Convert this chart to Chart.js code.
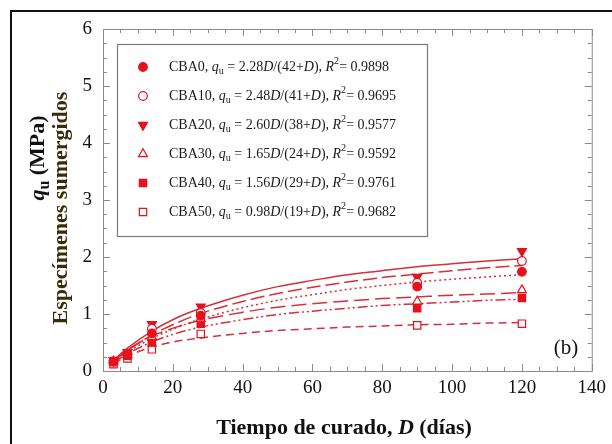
<!DOCTYPE html>
<html>
<head>
<meta charset="utf-8">
<script src="https://cdn.jsdelivr.net/npm/chart.js@4.4.1/dist/chart.umd.min.js"></script>
<style>
  html, body { margin: 0; padding: 0; background: #fff; }
  canvas { display: block; }
</style>
</head>
<body>
<canvas id="c" width="612" height="444"></canvas>
<script>
// measured points (curing days vs qu, MPa)
const days = [3, 7, 14, 28, 90, 120];
const cba0 = [0.17, 0.30, 0.66, 0.97, 1.48, 1.74];
const cba10 = [0.16, 0.30, 0.74, 1.02, 1.55, 1.93];
const cba20 = [0.19, 0.33, 0.82, 1.13, 1.65, 2.10];
const cba30 = [0.17, 0.28, 0.60, 0.92, 1.22, 1.42];
const cba40 = [0.16, 0.27, 0.50, 0.83, 1.10, 1.28];
const cba50 = [0.12, 0.22, 0.38, 0.65, 0.80, 0.83];

// fitted curves
const fitDays = [3, 7, 14, 21, 28, 40, 50, 60, 70, 80, 90, 100, 110, 120];
const fit0 = [0.15, 0.33, 0.57, 0.76, 0.91, 1.11, 1.24, 1.34, 1.43, 1.50, 1.56, 1.61, 1.65, 1.69];
const fit10 = [0.17, 0.36, 0.63, 0.84, 1.01, 1.22, 1.36, 1.47, 1.56, 1.64, 1.70, 1.76, 1.81, 1.85];
const fit20 = [0.19, 0.40, 0.70, 0.93, 1.10, 1.33, 1.48, 1.59, 1.69, 1.76, 1.83, 1.88, 1.93, 1.97];
const fit30 = [0.18, 0.37, 0.61, 0.77, 0.89, 1.03, 1.12, 1.18, 1.23, 1.27, 1.30, 1.33, 1.35, 1.38];
const fit40 = [0.15, 0.30, 0.51, 0.66, 0.77, 0.90, 0.99, 1.05, 1.10, 1.15, 1.18, 1.21, 1.24, 1.26];
const fit50 = [0.13, 0.26, 0.42, 0.52, 0.58, 0.66, 0.71, 0.74, 0.77, 0.79, 0.81, 0.82, 0.84, 0.85];

const names = ["CBA0", "CBA10", "CBA20", "CBA30", "CBA40", "CBA50"];
const fitA = ["2.28", "2.48", "2.60", "1.65", "1.56", "0.98"];
const fitB = ["42", "41", "38", "24", "29", "19"];
const r2 = ["0.9898", "0.9695", "0.9577", "0.9592", "0.9761", "0.9682"];

const xTicks = [0, 20, 40, 60, 80, 100, 120, 140];
const yTicks = [0, 1, 2, 3, 4, 5, 6];

const RED = "#e8101a";
const LINE = "#d4303a";
const SERIF = '"Liberation Serif", "Times New Roman", serif';

const pointSets = [cba0, cba10, cba20, cba30, cba40, cba50];
const fitSets = [fit0, fit10, fit20, fit30, fit40, fit50];
const markers = [
  { style: "circle", fill: true, r: 4.3, rot: 0 },
  { style: "circle", fill: false, r: 4.3, rot: 0 },
  { style: "triangle", fill: true, r: 5.2, rot: 180 },
  { style: "triangle", fill: false, r: 5.2, rot: 0 },
  { style: "rect", fill: true, r: 5.2, rot: 0 },
  { style: "rect", fill: false, r: 5.2, rot: 0 },
];
const dashes = [[2, 3], [14, 5], [], [15, 6], [10, 3, 2, 3, 2, 3], [8, 5]];

const datasets = [];
fitSets.forEach((f, i) => {
  datasets.push({
    label: names[i] + " fit",
    data: fitDays.map((d, k) => ({ x: d, y: f[k] })),
    showLine: true,
    borderColor: LINE,
    borderWidth: 1.5,
    borderDash: dashes[i],
    pointRadius: 0,
    cubicInterpolationMode: "monotone",
    order: 2,
  });
});
pointSets.forEach((p, i) => {
  const m = markers[i];
  datasets.push({
    label: names[i],
    data: days.map((d, k) => ({ x: d, y: p[k] })),
    showLine: false,
    pointStyle: m.style,
    pointRotation: m.rot,
    pointRadius: m.r,
    pointBackgroundColor: m.fill ? RED : "#fff",
    pointBorderColor: RED,
    pointBorderWidth: 1.2,
    order: 1,
  });
});

// text with italic / sub / sup pieces
function drawRich(ctx, parts, x, y, size) {
  parts.forEach((p) => {
    const s = p.sub || p.sup ? size * 0.72 : size;
    ctx.font = (p.i ? "italic " : "") + (p.b ? "bold " : "") + s + "px " + SERIF;
    const dy = p.sub ? size * 0.3 : p.sup ? -size * 0.38 : 0;
    ctx.fillText(p.t, x, y + dy);
    x += ctx.measureText(p.t).width;
  });
  return x;
}
function richWidth(ctx, parts, size) {
  let w = 0;
  parts.forEach((p) => {
    const s = p.sub || p.sup ? size * 0.72 : size;
    ctx.font = (p.i ? "italic " : "") + (p.b ? "bold " : "") + s + "px " + SERIF;
    w += ctx.measureText(p.t).width;
  });
  return w;
}

const decor = {
  id: "decor",
  afterDraw(chart) {
    const ctx = chart.ctx;
    const a = chart.chartArea;
    const xs = chart.scales.x;
    const ys = chart.scales.y;
    ctx.save();

    // outer frame
    ctx.strokeStyle = "#111";
    ctx.lineWidth = 2;
    ctx.strokeRect(11, 11, 700, 600);

    // plot frame + inside ticks
    ctx.strokeStyle = "#8a8a8a";
    ctx.lineWidth = 1;
    ctx.strokeRect(a.left + 0.5, a.top + 0.5, a.right - a.left, a.bottom - a.top);
    ctx.beginPath();
    for (let v = 0; v <= 140; v += 5) {
      const px = Math.round(xs.getPixelForValue(v)) + 0.5;
      const len = v % 20 === 0 ? 7 : 4;
      ctx.moveTo(px, a.bottom); ctx.lineTo(px, a.bottom - len);
      ctx.moveTo(px, a.top); ctx.lineTo(px, a.top + len);
    }
    for (let v = 0; v <= 6; v += 0.25) {
      const py = Math.round(ys.getPixelForValue(v)) + 0.5;
      const len = v % 1 === 0 ? 7 : 4;
      ctx.moveTo(a.left, py); ctx.lineTo(a.left + len, py);
      ctx.moveTo(a.right, py); ctx.lineTo(a.right - len, py);
    }
    ctx.stroke();

    // legend box
    const bx = 117, by = 44, bw = 310, bh = 192;
    ctx.strokeStyle = "#7a7a7a";
    ctx.lineWidth = 1.2;
    ctx.strokeRect(bx + 0.5, by + 0.5, bw, bh);
    ctx.textBaseline = "middle";
    ctx.textAlign = "left";
    names.forEach((n, i) => {
      const yy = 67 + i * 29;
      const m = markers[i];
      ctx.fillStyle = m.fill ? RED : "#fff";
      ctx.strokeStyle = RED;
      ctx.lineWidth = 1.2;
      Chart.helpers.drawPoint(ctx, { pointStyle: m.style, radius: m.r, rotation: m.rot, borderWidth: 1.2 }, 143, yy);
      ctx.fillStyle = "#1a1a1a";
      drawRich(ctx, [
        { t: n + ", " },
        { t: "q", i: true },
        { t: "u", sub: true },
        { t: " = " + fitA[i] },
        { t: "D", i: true },
        { t: "/(" + fitB[i] + "+" },
        { t: "D", i: true },
        { t: "), " },
        { t: "R", i: true },
        { t: "2", sup: true },
        { t: "= " + r2[i] },
      ], 169, yy, 14);
    });

    // panel tag
    ctx.fillStyle = "#111";
    ctx.font = "21px " + SERIF;
    ctx.textAlign = "center";
    ctx.fillText("(b)", 566, 348);

    // x title
    ctx.textAlign = "left";
    const xt = [
      { t: "Tiempo de curado, ", b: true },
      { t: "D", b: true, i: true },
      { t: " (días)", b: true },
    ];
    const xw = richWidth(ctx, xt, 22);
    ctx.fillStyle = "#111";
    drawRich(ctx, xt, 344 - xw / 2, 428, 22);

    // y titles (rotated)
    ctx.save();
    ctx.translate(38, 158);
    ctx.rotate(-Math.PI / 2);
    const yt = [
      { t: "q", b: true, i: true },
      { t: "u", b: true, sub: true },
      { t: " (MPa)", b: true },
    ];
    drawRich(ctx, yt, -richWidth(ctx, yt, 22) / 2, 0, 22);
    ctx.restore();

    ctx.save();
    ctx.translate(61, 208);
    ctx.rotate(-Math.PI / 2);
    ctx.fillStyle = "#3a2c08";
    ctx.font = "bold 22px " + SERIF;
    ctx.textAlign = "center";
    ctx.fillText("Especímenes sumergidos", 0, 0);
    ctx.restore();

    ctx.restore();
  },
};

const tickFont = { family: SERIF, size: 19 };

new Chart(document.getElementById("c"), {
  type: "scatter",
  data: { datasets: datasets },
  options: {
    responsive: false,
    animation: false,
    layout: { padding: { top: 29, right: 19, left: 0, bottom: 0 } },
    plugins: { legend: { display: false }, tooltip: { enabled: false } },
    scales: {
      x: {
        type: "linear",
        min: xTicks[0],
        max: xTicks[xTicks.length - 1],
        afterBuildTicks: (s) => { s.ticks = xTicks.map((v) => ({ value: v })); },
        ticks: { font: tickFont, color: "#111", padding: 6, maxRotation: 0 },
        grid: { display: false, drawTicks: false },
        border: { display: false },
        afterFit: (s) => { s.height = 73; },
      },
      y: {
        min: yTicks[0],
        max: yTicks[yTicks.length - 1],
        afterBuildTicks: (s) => { s.ticks = yTicks.map((v) => ({ value: v })); },
        ticks: { font: tickFont, color: "#111", padding: 11 },
        grid: { display: false, drawTicks: false },
        border: { display: false },
        afterFit: (s) => { s.width = 103; },
      },
    },
  },
  plugins: [decor],
});
</script>
</body>
</html>
